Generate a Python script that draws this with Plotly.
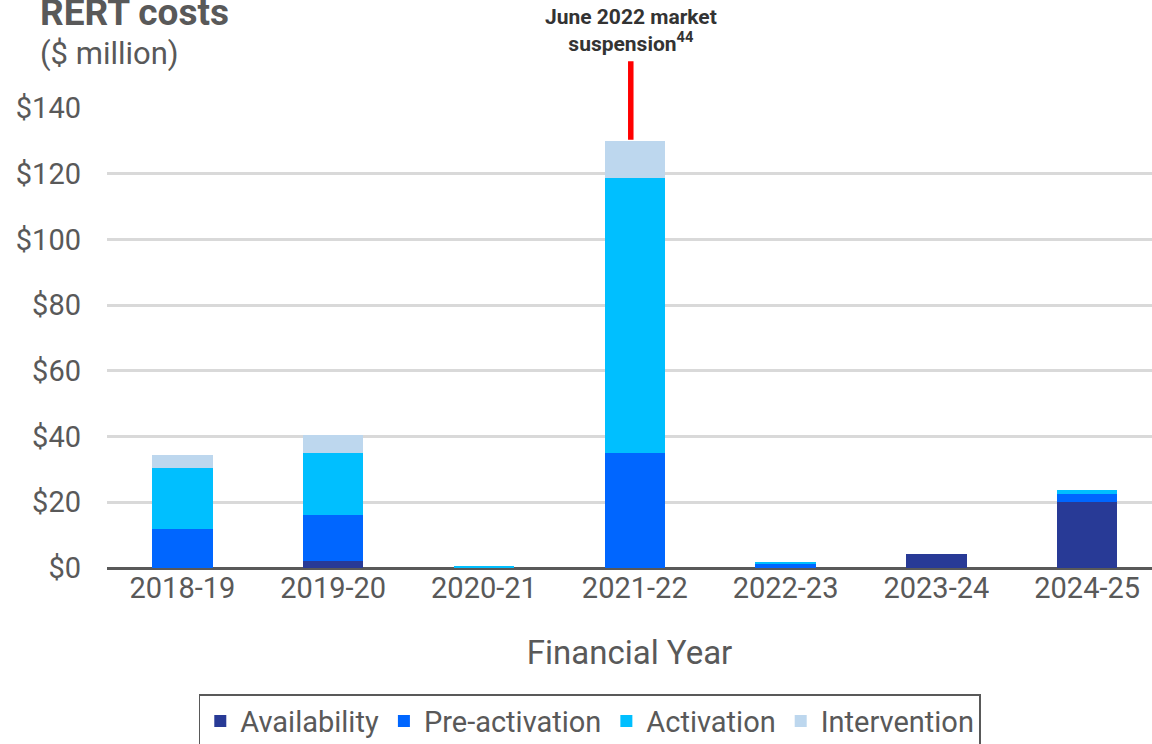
import plotly.graph_objects as go

# RERT costs by financial year ($ million), stacked by cost component
years = ["2018-19", "2019-20", "2020-21", "2021-22", "2022-23", "2023-24", "2024-25"]
availability = [0, 2.1, 0, 0, 0, 4.2, 20.2]
pre_activation = [11.8, 14.1, 0, 35.0, 1.1, 0, 2.4]
activation = [18.7, 18.9, 0.4, 83.7, 0.7, 0, 1.0]
intervention = [3.9, 5.4, 0, 11.3, 0, 0, 0]

y_ticks = [0, 20, 40, 60, 80, 100, 120, 140]
y_tick_labels = ["$0", "$20", "$40", "$60", "$80", "$100", "$120", "$140"]

series = [
    ("Availability", availability, "#283a96"),
    ("Pre-activation", pre_activation, "#0066ff"),
    ("Activation", activation, "#00bfff"),
    ("Intervention", intervention, "#bdd7ee"),
]

GREY = "#595959"
FONT = "Roboto"

fig = go.Figure()
for name, vals, color in series:
    fig.add_trace(go.Bar(
        x=years, y=vals, name=name, width=0.4,
        marker=dict(color=color, line=dict(width=0)),
        hoverinfo="x+y+name",
    ))

fig.update_layout(
    width=1152, height=744,
    barmode="stack",
    plot_bgcolor="white", paper_bgcolor="white",
    margin=dict(l=107, r=0, t=108, b=176, autoexpand=False),
    font=dict(family=FONT, color=GREY, size=28),
    showlegend=True,
    legend=dict(
        orientation="h", x=0.462, xanchor="center", y=-0.274, yanchor="top",
        bordercolor=GREY, borderwidth=1.5, font=dict(size=29, color=GREY),
        traceorder="normal",
    ),
)

fig.update_xaxes(
    range=[-0.5, 6.43], type="category", automargin=False,
    tickfont=dict(size=29, color=GREY),
    title=dict(text="Financial Year", font=dict(size=33, color=GREY), standoff=36),
    showgrid=False, showline=False, ticks="",
)
fig.update_yaxes(
    range=[0, 140], tickvals=y_ticks, ticktext=y_tick_labels, automargin=False,
    tickfont=dict(size=29, color=GREY),
    showgrid=True, gridcolor="#d9d9d9", gridwidth=3,
    zeroline=True, zerolinecolor=GREY, zerolinewidth=3,
    ticks="", ticklabelstandoff=25,
)

# Chart title and unit
fig.add_annotation(text="<b>RERT costs</b>", xref="paper", yref="paper",
                   x=-0.066, y=1.207, xanchor="left", yanchor="middle",
                   showarrow=False, font=dict(size=37, color=GREY))
fig.add_annotation(text="($ million)", xref="paper", yref="paper",
                   x=-0.066, y=1.118, xanchor="left", yanchor="middle",
                   showarrow=False, font=dict(size=31, color=GREY))

# Marker for the June 2022 market suspension
fig.add_annotation(x="2021-22", y=130.3, xref="x", yref="y", text="",
                   showarrow=True, arrowhead=0, arrowwidth=5.5, arrowcolor="#ff0000",
                   ax=0, ay=-80, standoff=0, xshift=-4)
fig.add_annotation(x="2021-22", xref="x", yref="paper", y=1.168,
                   text="<b>June 2022 market<br>suspension<sup>44</sup></b>",
                   showarrow=False, yanchor="middle", xshift=-4,
                   font=dict(size=21, color="#333333"))

fig.write_html("out.html")
